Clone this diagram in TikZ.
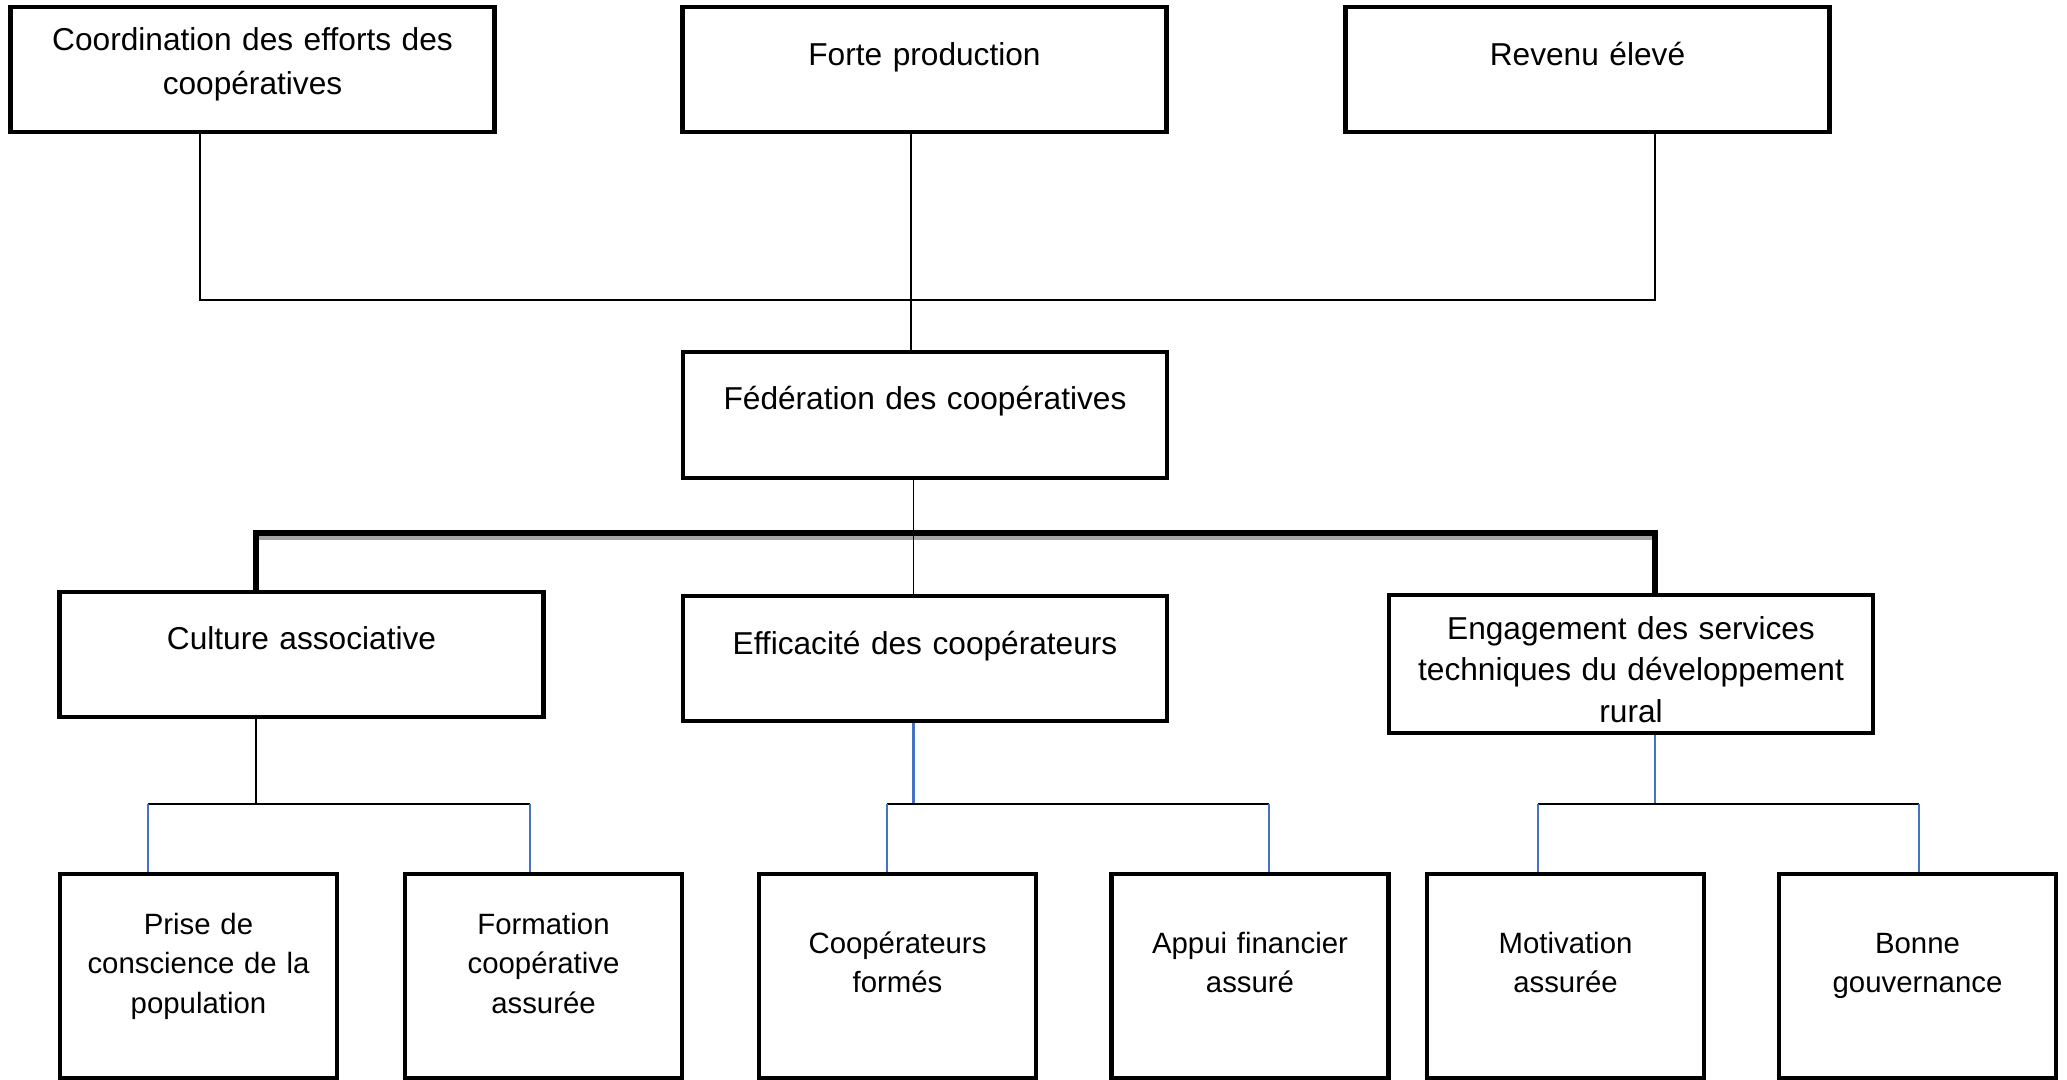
\documentclass[tikz,border=0pt]{standalone}
\usepackage{fontspec}
\setmainfont{Liberation Sans}
\definecolor{linkblue}{HTML}{4472C4}
\definecolor{shadowgray}{HTML}{A6A6A6}

\begin{document}
\begin{tikzpicture}[x=0.01cm, y=-0.01cm,
  box/.style={draw=black, line width=1.28pt, fill=white, inner sep=0pt},
  widebox/.style={box, minimum width=4.84cm, minimum height=1.245cm},
  smallbox/.style={box, minimum width=2.77cm, minimum height=2.035cm},
  lbltop/.style={anchor=base, align=center, inner sep=0pt, text width=4.6cm,
    font=\fontsize{9.0}{11.8}\selectfont},
  lblbot/.style={anchor=base, align=center, inner sep=0pt, text width=2.6cm,
    font=\fontsize{8.35}{11.25}\selectfont},
  thinline/.style={draw=black, line width=0.55pt},
  blueline/.style={draw=linkblue, line width=0.6pt},
  barline/.style={draw=black, line width=1.56pt, line join=miter},
  barshadow/.style={draw=shadowgray, line width=1.1pt}]

\fill[white] (0,0) rectangle (2067,1080);
\useasboundingbox (0,0) rectangle (2067,1080);

% ---- top row: outcomes
\node[widebox] (coord)  at (252.5,69.5) {};
\node[widebox] (forte)  at (924.5,69.5) {};
\node[widebox] (revenu) at (1587.5,69.5) {};

% ---- federation
\node[widebox, minimum height=1.255cm] (fed) at (925,415) {};

% ---- middle row
\node[widebox] (culture) at (301.5,654.5) {};
\node[widebox] (effic)   at (925,658.5) {};
\node[widebox, minimum height=1.375cm] (engag) at (1631,664) {};

% ---- bottom row
\node[smallbox] (prise)     at (198.5,976) {};
\node[smallbox] (formation) at (543.5,976) {};
\node[smallbox] (coopf)     at (897.5,976) {};
\node[smallbox] (appui)     at (1250,976) {};
\node[smallbox] (motiv)     at (1565.5,976) {};
\node[smallbox] (bonne)     at (1917.5,976) {};

% ---- labels
\node[lbltop] (tcoord)  at (252.5,50.5) {Coordination des efforts des\\[0.025cm]coopératives};
\node[lbltop] (tforte)  at (924.5,66) {Forte production};
\node[lbltop] (trevenu) at (1587.5,66) {Revenu élevé};
\node[lbltop] (tfed)    at (925,410) {Fédération des coopératives};
\node[lbltop] (tcult)   at (301.5,650) {Culture associative};
\node[lbltop] (teffic)  at (925,655) {Efficacité des coopérateurs};
\node[lbltop] (tengag)  at (1631,639.5) {Engagement des services\\techniques du développement\\rural};

\node[lblbot] (tprise) at (198.5,934) {Prise de\\conscience de la\\population};
\node[lblbot] (tform)  at (543.5,934) {Formation\\coopérative\\assurée};
\node[lblbot] (tcoopf) at (897.5,953) {Coopérateurs\\formés};
\node[lblbot] (tappui) at (1250,953) {Appui financier\\assuré};
\node[lblbot] (tmotiv) at (1565.5,953) {Motivation\\assurée};
\node[lblbot] (tbonne) at (1917.5,953) {Bonne\\gouvernance};

% ---- junction points
\coordinate (hL) at (200,300);
\coordinate (hR) at (1655,300);
\coordinate (fx) at (911,300);
\coordinate (gx) at (913.5,533);
\coordinate (barL) at (256,533);
\coordinate (barR) at (1655,533);

\coordinate (cx) at (256,804);
\coordinate (c1) at (148,804);
\coordinate (c2) at (530,804);
\coordinate (ex) at (913.5,804);
\coordinate (e1) at (887,804);
\coordinate (e2) at (1269,804);
\coordinate (nx) at (1655,804);
\coordinate (n1) at (1538,804);
\coordinate (n2) at (1919,804);

% ---- outcomes tied to the federation
\draw[thinline] (coord.south -| hL) -- (hL) -- (hR) -- (revenu.south -| hR);
\draw[thinline] (forte.south -| fx) -- (fed.north -| fx);

% ---- federation to its three pillars
\draw[barshadow] ([xshift=0.03cm, yshift=-0.05cm]barL) -- ([xshift=-0.03cm, yshift=-0.05cm]barR);
\draw[barline] (culture.north -| barL) -- (barL) -- (barR) -- (engag.north -| barR);
\draw[thinline] (fed.south -| gx) -- (effic.north -| gx);

% ---- culture associative
\draw[thinline] (culture.south -| cx) -- (cx);
\draw[thinline] (c1) -- (c2);
\draw[blueline] (c1) -- (prise.north -| c1);
\draw[blueline] (c2) -- (formation.north -| c2);

% ---- efficacite des cooperateurs
\draw[blueline] (effic.south -| ex) -- (ex);
\draw[thinline] (e1) -- (e2);
\draw[blueline] (e1) -- (coopf.north -| e1);
\draw[blueline] (e2) -- (appui.north -| e2);

% ---- engagement des services techniques
\draw[blueline] (engag.south -| nx) -- (nx);
\draw[thinline] (n1) -- (n2);
\draw[blueline] (n1) -- (motiv.north -| n1);
\draw[blueline] (n2) -- (bonne.north -| n2);

\end{tikzpicture}
\end{document}
